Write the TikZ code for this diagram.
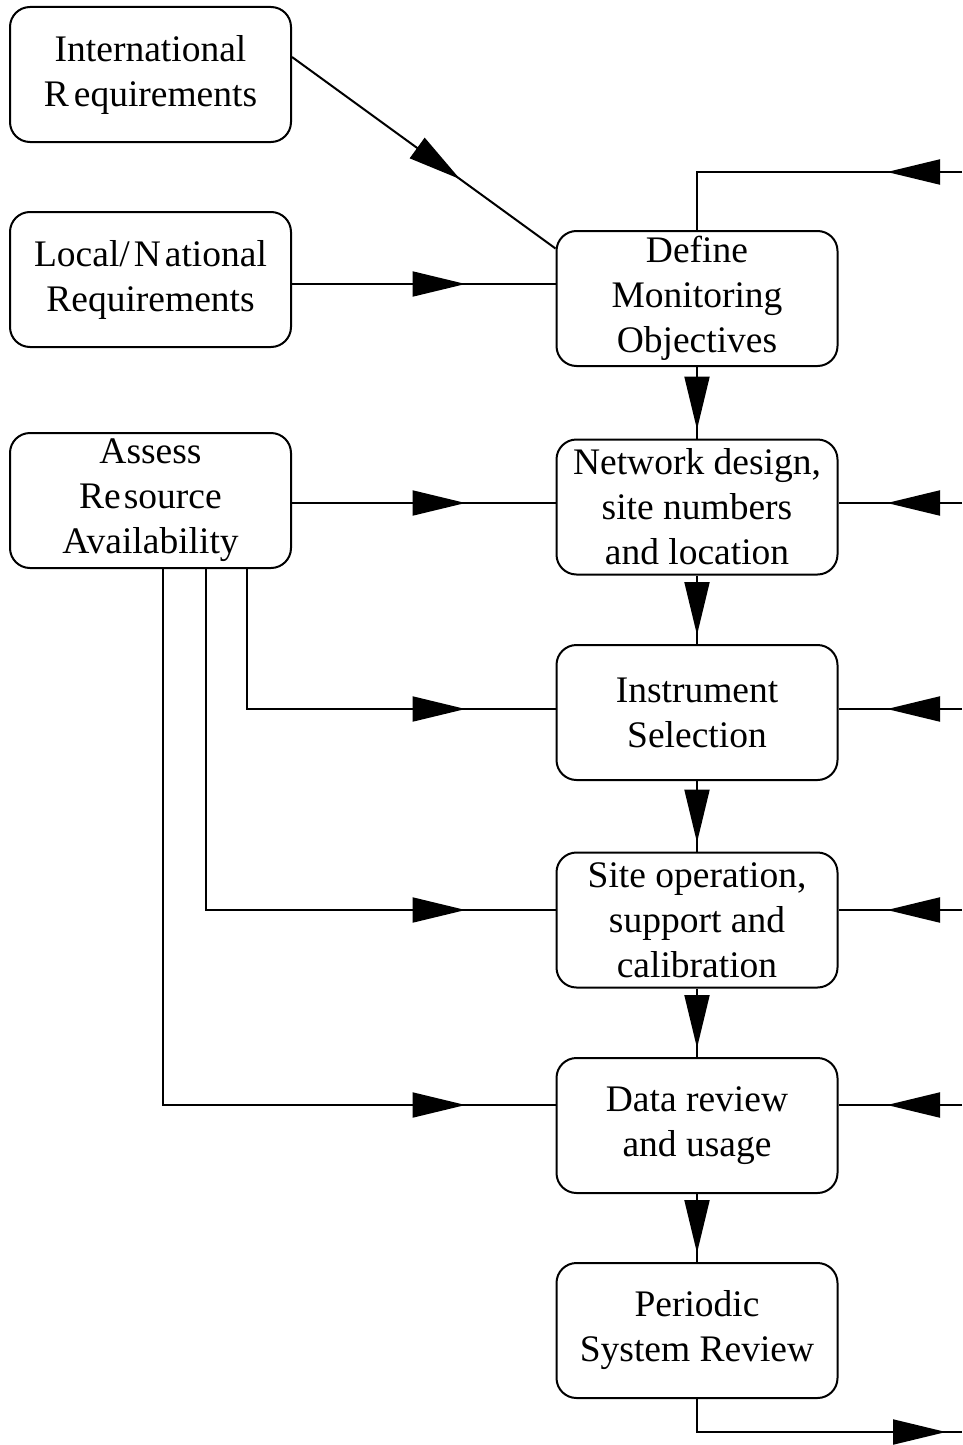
\documentclass[tikz,border=0pt]{standalone}
\usepackage{fontspec}
\setmainfont{Liberation Serif}
\usetikzlibrary{arrows.meta,decorations.markings}
\begin{document}
\begin{tikzpicture}[x=1pt,y=-1pt,
  box/.style={draw,line width=2pt,rounded corners=20pt,minimum width=281pt,minimum height=135pt,align=center,font=\fontsize{37.5}{45}\selectfont,inner sep=0pt},
  conn/.style={line width=2pt},
  tipat/.style={postaction={decorate},decoration={markings,mark=at position #1 with {\arrow{Triangle[length=53pt,width=25pt]}}}}]
\useasboundingbox (0,0) rectangle (962,1445);
% left column
\node[box] (intl) at (150.5,74.5) {International\\{\spaceskip=5pt R equirements}};
\node[box] (loc) at (150.5,279.5) {{\spaceskip=4pt Local/ N ational}\\Requirements};
\node[box] (ass) at (150.5,500.5) {Assess\\Re\kern3pt source\\Availability};
% right column
\node[box] (def) at (697,298.5) {Define\\Monitoring\\Objectives};
\node[box] (net) at (697,507) {Network design,\\site numbers\\and location};
\node[box] (ins) at (697,712.5) {Instrument\\Selection};
\node[box] (site) at (697,920) {Site operation,\\support and\\calibration};
\node[box] (dat) at (697,1125.5) {Data review\\and usage};
\node[box] (per) at (697,1330.5) {Periodic\\System Review};
% helper levels
\coordinate (yL) at (0,284);
\coordinate (yN) at (0,503);
\coordinate (yI) at (0,709);
\coordinate (yS) at (0,910);
\coordinate (yD) at (0,1105);
\coordinate (tr) at (962,172);
\coordinate (rN) at (962,503);
\coordinate (rI) at (962,709);
\coordinate (rS) at (962,910);
\coordinate (rD) at (962,1105);
\coordinate (br) at (962,1432);
% left inputs
\draw[conn,tipat=-118pt] ([yshift=17.5pt]intl.east) -- ([yshift=50pt]def.west);
\draw[conn,tipat=-90pt] (loc.east |- yL) -- (def.west |- yL);
\draw[conn,tipat=-90pt] (ass.east |- yN) -- (net.west |- yN);
\draw[conn,tipat=-90pt] ([xshift=96.5pt]ass.south) |- (ins.west |- yI);
\draw[conn,tipat=-90pt] ([xshift=55.5pt]ass.south) |- (site.west |- yS);
\draw[conn,tipat=-90pt] ([xshift=12.5pt]ass.south) |- (dat.west |- yD);
% main chain
\draw[conn,tipat=-9pt] (def.south) -- (net.north);
\draw[conn,tipat=-9pt] (net.south) -- (ins.north);
\draw[conn,tipat=-9pt] (ins.south) -- (site.north);
\draw[conn,tipat=-9pt] (site.south) -- (dat.north);
\draw[conn,tipat=-9pt] (dat.south) -- (per.north);
% right side feedback
\draw[conn,tipat=75pt] (tr) -| (def.north);
\draw[conn,tipat=75pt] (rN) -- (net.east |- rN);
\draw[conn,tipat=75pt] (rI) -- (ins.east |- rI);
\draw[conn,tipat=75pt] (rS) -- (site.east |- rS);
\draw[conn,tipat=75pt] (rD) -- (dat.east |- rD);
\draw[conn,tipat=-16pt] (per.south) |- (br);
\end{tikzpicture}
\end{document}
